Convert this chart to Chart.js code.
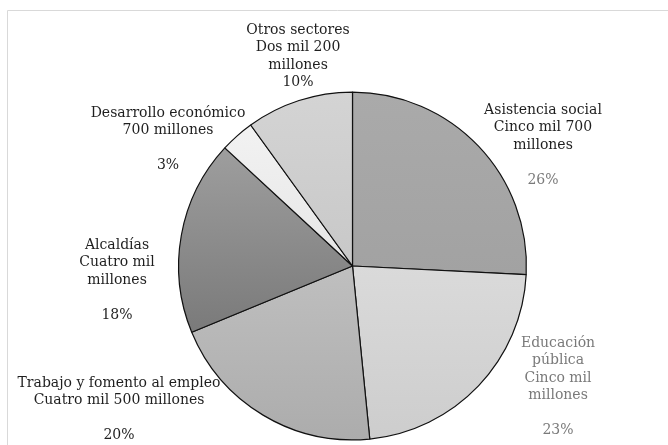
<!DOCTYPE html>
<html>
<head>
<meta charset="utf-8">
<script src="https://cdn.jsdelivr.net/npm/chart.js@4.4.1/dist/chart.umd.min.js"></script>
<style>
  html, body { margin: 0; padding: 0; background: #fff; }
  #wrap { width: 668px; height: 445px; position: relative; }
</style>
</head>
<body>
<div id="wrap"><canvas id="myChart"></canvas></div>
<script>
// presupuesto por sector, en millones
let sectors = ["Asistencia social", "Educación pública", "Trabajo y fomento al empleo", "Alcaldías", "Desarrollo económico", "Otros sectores"];
let amounts = [5700, 5000, 4500, 4000, 700, 2200];

// texto de cada etiqueta, ya partido en renglones
let nameLines = [
  ["Asistencia social"],
  ["Educación", "pública"],
  ["Trabajo y fomento al empleo"],
  ["Alcaldías"],
  ["Desarrollo económico"],
  ["Otros sectores"],
];
let amountLines = [
  ["Cinco mil 700", "millones"],
  ["Cinco mil", "millones"],
  ["Cuatro mil 500 millones"],
  ["Cuatro mil", "millones"],
  ["700 millones"],
  ["Dos mil 200", "millones"],
];

// degradado vertical de cada rebanada (arriba, abajo)
let topColors = ["#aaaaaa", "#dadada", "#bfbfbf", "#9e9e9e", "#f2f2f2", "#d4d4d4"];
let bottomColors = ["#a2a2a2", "#cdcdcd", "#acacac", "#7a7a7a", "#e6e6e6", "#c8c8c8"];

// donde va cada etiqueta: centro x, primer renglon y, renglon en blanco antes del %
let labelLayout = [
  { x: 543, y: 110, gap: true, nameColor: "#1f1f1f", pctColor: "#7a7a7a" },
  { x: 558, y: 343, gap: true, nameColor: "#7a7a7a", pctColor: "#7a7a7a" },
  { x: 119, y: 383, gap: true, nameColor: "#1f1f1f", pctColor: "#1f1f1f" },
  { x: 117, y: 245, gap: true, nameColor: "#1f1f1f", pctColor: "#1f1f1f" },
  { x: 168, y: 113, gap: true, nameColor: "#1f1f1f", pctColor: "#1f1f1f" },
  { x: 298, y: 30, gap: false, nameColor: "#1f1f1f", pctColor: "#1f1f1f" },
];

let total = amounts.reduce((a, b) => a + b, 0);
let lineHeight = 17.5;

function sliceGradient(context) {
  let chart = context.chart;
  let area = chart.chartArea;
  let i = context.dataIndex;
  if (!area) {
    return topColors[i];
  }
  let cx = (area.left + area.right) / 2;
  let cy = (area.top + area.bottom) / 2;
  let r = Math.min(area.right - area.left, area.bottom - area.top) / 2;

  let before = 0;
  for (let k = 0; k < i; k++) {
    before += amounts[k];
  }
  let a0 = -Math.PI / 2 + (2 * Math.PI * before) / total;
  let a1 = a0 + (2 * Math.PI * amounts[i]) / total;

  // extension vertical de la rebanada
  let minY = cy;
  let maxY = cy;
  for (let s = 0; s <= 40; s++) {
    let a = a0 + ((a1 - a0) * s) / 40;
    let y = cy + r * Math.sin(a);
    minY = Math.min(minY, y);
    maxY = Math.max(maxY, y);
  }

  let g = chart.ctx.createLinearGradient(0, minY, 0, maxY);
  g.addColorStop(0, topColors[i]);
  g.addColorStop(1, bottomColors[i]);
  return g;
}

let framePlugin = {
  id: "frame",
  beforeDraw(chart) {
    let ctx = chart.ctx;
    ctx.save();
    ctx.strokeStyle = "#d9d9d9";
    ctx.lineWidth = 1;
    ctx.beginPath();
    ctx.moveTo(7.5, 445);
    ctx.lineTo(7.5, 10.5);
    ctx.lineTo(668, 10.5);
    ctx.stroke();
    ctx.restore();
  },
};

let labelPlugin = {
  id: "sliceLabels",
  afterDraw(chart) {
    let ctx = chart.ctx;
    ctx.save();
    ctx.font = "14px 'DejaVu Serif'";
    ctx.textAlign = "center";
    ctx.textBaseline = "middle";
    for (let i = 0; i < sectors.length; i++) {
      let lay = labelLayout[i];
      let pct = Math.round((amounts[i] / total) * 100) + "%";
      let y = lay.y;
      ctx.fillStyle = lay.nameColor;
      let textLines = nameLines[i].concat(amountLines[i]);
      for (let j = 0; j < textLines.length; j++) {
        ctx.fillText(textLines[j], lay.x, y);
        y += lineHeight;
      }
      if (lay.gap) {
        y += lineHeight;
      }
      ctx.fillStyle = lay.pctColor;
      ctx.fillText(pct, lay.x, y);
    }
    ctx.restore();
  },
};

const ctx = document.getElementById("myChart");

new Chart(ctx, {
  type: "pie",
  data: {
    labels: sectors,
    datasets: [
      {
        data: amounts,
        backgroundColor: sliceGradient,
        borderColor: "#111111",
        borderWidth: 1.2,
      },
    ],
  },
  options: {
    responsive: true,
    maintainAspectRatio: false,
    animation: false,
    layout: {
      padding: { left: 178, right: 141, top: 91, bottom: 4 },
    },
    plugins: {
      legend: { display: false },
      tooltip: { enabled: false },
    },
  },
  plugins: [framePlugin, labelPlugin],
});
</script>
</body>
</html>
